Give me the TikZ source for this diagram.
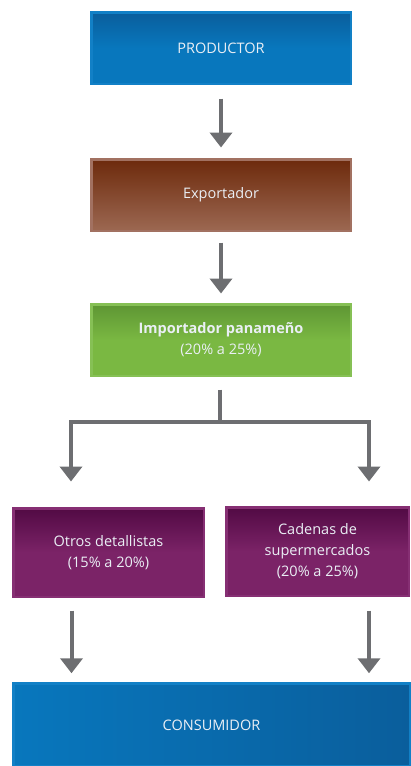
\documentclass[tikz,border=0pt]{standalone}
\usepackage{fontspec}
\setmainfont{Open Sans}
\usetikzlibrary{arrows.meta,positioning}
\definecolor{bluemain}{HTML}{0877BD}
\definecolor{bluedark}{HTML}{0A5E9C}
\definecolor{blueedge}{HTML}{1280C6}
\definecolor{brtop}{HTML}{6D2A0C}
\definecolor{brbot}{HTML}{9C6852}
\definecolor{bredge}{HTML}{A27161}
\definecolor{grtop}{HTML}{5E9634}
\definecolor{grmain}{HTML}{7AB842}
\definecolor{gredge}{HTML}{86C055}
\definecolor{putop}{HTML}{520A44}
\definecolor{pumain}{HTML}{7B2367}
\definecolor{puedge}{HTML}{862F73}
\definecolor{arrgray}{HTML}{6D6E71}
\definecolor{txt}{HTML}{EAEFF5}
\tikzset{
  box/.style={rectangle, line width=2.5pt, align=center, text=txt,
    font=\fontsize{14.5}{21}\selectfont, inner sep=0pt},
  bluebox/.style={box, draw=blueedge, top color=bluedark, bottom color=bluemain, middle color=bluemain},
  brownbox/.style={box, draw=bredge, top color=brtop, bottom color=brbot},
  greenbox/.style={box, draw=gredge, top color=grtop, bottom color=grmain, middle color=grmain},
  purplebox/.style={box, draw=puedge, top color=putop, bottom color=pumain, middle color=pumain},
  conn/.style={draw=arrgray, line width=4pt},
  arr/.style={conn, -{Triangle[width=22pt,length=15pt]}}
}
\begin{document}
\begin{tikzpicture}[x=1pt,y=1pt]
\useasboundingbox (0,0) rectangle (411,-766);
% boxes (outer size minus border)
\node[bluebox, minimum width=259.5pt, minimum height=71.5pt] (prod) at (221,-48) {PRODUCTOR};
\node[brownbox, minimum width=259.5pt, minimum height=71.5pt] (exp) at (221,-195) {Exportador};
\node[greenbox, minimum width=259.5pt, minimum height=71.5pt] (imp) at (221,-340) {\textbf{Importador panameño}\\(20\% a 25\%)};
\node[purplebox, minimum width=190.5pt, minimum height=88.5pt] (otros) at (108.5,-552.5) {Otros detallistas\\(15\% a 20\%)};
\node[purplebox, minimum width=182.5pt, minimum height=88.5pt] (cad) at (317.5,-551.5) {Cadenas de\\supermercados\\(20\% a 25\%)};
\node[box, draw=blueedge, left color=bluemain, middle color=bluemain, right color=bluedark,
  minimum width=396.5pt, minimum height=83pt] (cons) at (211.5,-725) {CONSUMIDOR};
% connectors
\draw[arr] ([yshift=-13.5pt]prod.south) -- ([yshift=10.5pt]exp.north);
\draw[arr] ([yshift=-10.5pt]exp.south) -- ([yshift=9.5pt]imp.north);
\draw[conn] ([xshift=-1pt,yshift=-12.5pt]imp.south) -- ++(0,-32.2) coordinate (j);
\draw[arr, line join=miter] ([yshift=2pt]j) |- ++(0,-2) -| ([xshift=59pt,yshift=25.5pt]otros.north west);
\draw[arr, line join=miter] ([yshift=2pt]j) |- ++(0,-2) -| ([xshift=-41pt,yshift=24.5pt]cad.north east);
\draw[arr] ([xshift=59.5pt,yshift=-12.5pt]otros.south west) -- ([xshift=59.5pt,yshift=9pt]cons.north west);
\draw[arr] ([xshift=-41pt,yshift=-13.5pt]cad.south east) -- ([xshift=-42pt,yshift=9pt]cons.north east);
\end{tikzpicture}
\end{document}
